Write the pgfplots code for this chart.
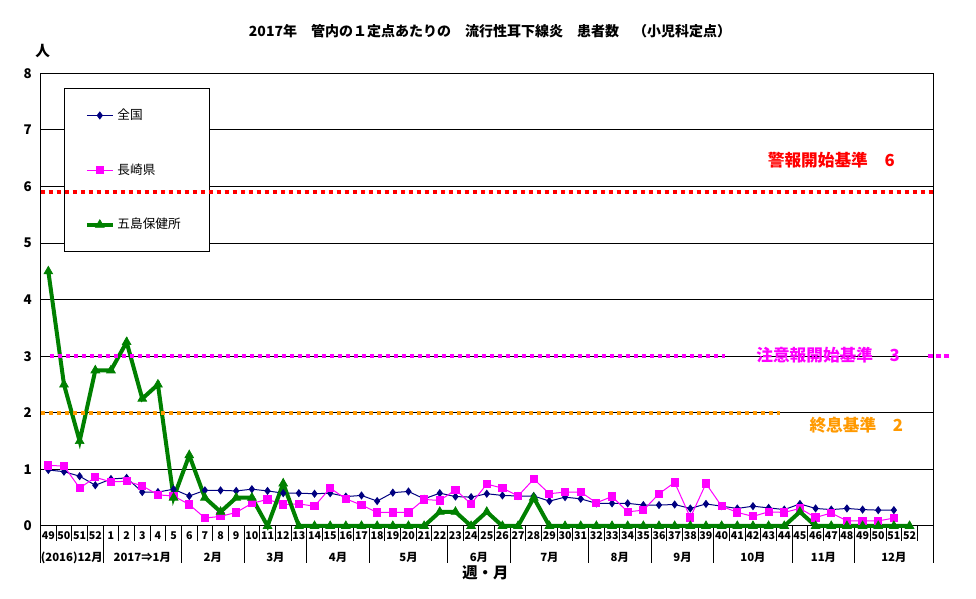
\documentclass[border=0pt]{standalone}
\usepackage{fontspec}
\setmainfont{Noto Sans CJK JP}
\usepackage{pgfplots}
\pgfplotsset{compat=1.18}

\definecolor{zenkoku}{HTML}{000080}
\definecolor{nagasaki}{HTML}{FF00FF}
\definecolor{goto}{HTML}{008000}
\definecolor{keiho}{HTML}{FF0000}
\definecolor{shusoku}{HTML}{FF9900}

% 1px = 0.75pt ; picture 976x599 px
\pgfplotsset{
  base/.style={
    at={(30.375pt,54.75pt)}, anchor=south west,
    scale only axis, width=669.4pt, height=339.5pt,
    xmin=-0.5, xmax=56.5, ymin=0, ymax=8,
    clip=false,
  },
}
\tikzset{
  thresh/.style={line width=3.2pt, dash pattern=on 3.2pt off 2.8pt, line cap=butt},
  month/.style={font=\fontsize{8.5}{9}\selectfont\bfseries, yshift=-23.8pt},
}

\begin{document}
\begin{tikzpicture}
\useasboundingbox (0,0) rectangle (732pt,449.25pt);

\begin{axis}[base,
  /pgf/number format/assume math mode=true,
  axis line style={black, line width=0.75pt},
  ytick={0,...,8},
  ymajorgrids, grid style={black, line width=0.75pt},
  ytick style={draw=none},
  yticklabel style={font=\fontsize{10}{10}\selectfont\bfseries, xshift=-3pt},
  xtick={0,...,55},
  xticklabels={49,50,51,52,1,2,3,4,5,6,7,8,9,10,11,12,13,14,15,16,17,18,19,20,
    21,22,23,24,25,26,27,28,29,30,31,32,33,34,35,36,37,38,39,40,41,42,43,44,45,
    46,47,48,49,50,51,52},
  xticklabel style={font=\fontsize{8}{8}\selectfont\bfseries, yshift=-1pt},
  major tick length=0pt,
  minor xtick={-0.5,0.5,...,55.5},
  minor tick length=11.25pt,
  tick align=outside,
  xtick pos=bottom, ytick pos=left,
  minor x tick style={black, line width=0.75pt},
  extra x ticks={-0.5,3.5,8.5,12.5,16.5,20.5,25.5,29.5,34.5,38.5,42.5,47.5,51.5,56.5},
  extra x tick labels={},
  extra x tick style={major tick length=27.75pt, tick align=outside, grid=none,
    tick style={black, line width=0.75pt}},
  legend style={at={(0.0267,0.967)}, anchor=north west, draw=black, fill=white,
    line width=0.75pt, inner xsep=15pt, inner ysep=13pt, row sep=27pt,
    font=\fontsize{9.5}{10}\selectfont,
    nodes={text width=52pt, text height=8pt, text depth=2pt}},
  legend cell align=left,
  legend image code/.code={\draw[mark repeat=2,mark phase=2,#1]
    plot coordinates {(0pt,0pt) (9.75pt,0pt) (19.5pt,0pt)};},
]

\addplot[zenkoku, line width=0.75pt, mark=diamond*, mark size=2.5pt,
  mark options={solid, fill=zenkoku}] coordinates {
(0,0.99) (1,0.96) (2,0.88) (3,0.72) (4,0.83) (5,0.85) (6,0.60) (7,0.60)
(8,0.65) (9,0.53) (10,0.63) (11,0.63) (12,0.62) (13,0.65) (14,0.62) (15,0.58)
(16,0.58) (17,0.57) (18,0.58) (19,0.52) (20,0.54) (21,0.44) (22,0.59) (23,0.61)
(24,0.48) (25,0.58) (26,0.52) (27,0.51) (28,0.57) (29,0.54) (30,0.53) (31,0.53)
(32,0.44) (33,0.51) (34,0.48) (35,0.40) (36,0.40) (37,0.40) (38,0.37) (39,0.37)
(40,0.38) (41,0.31) (42,0.39) (43,0.35) (44,0.31) (45,0.35) (46,0.32) (47,0.29)
(48,0.39) (49,0.31) (50,0.29) (51,0.31) (52,0.29) (53,0.28) (54,0.28)
};
\addlegendentry{全国}

\addplot[nagasaki, line width=0.75pt, mark=square*, mark size=2.7pt,
  mark options={solid, fill=nagasaki}] coordinates {
(0,1.07) (1,1.06) (2,0.67) (3,0.86) (4,0.78) (5,0.79) (6,0.71) (7,0.55)
(8,0.53) (9,0.38) (10,0.14) (11,0.17) (12,0.24) (13,0.40) (14,0.47) (15,0.38)
(16,0.39) (17,0.35) (18,0.67) (19,0.48) (20,0.37) (21,0.24) (22,0.24) (23,0.24)
(24,0.47) (25,0.45) (26,0.64) (27,0.39) (28,0.74) (29,0.67) (30,0.53) (31,0.83)
(32,0.57) (33,0.60) (34,0.60) (35,0.41) (36,0.52) (37,0.25) (38,0.28) (39,0.57)
(40,0.77) (41,0.15) (42,0.75) (43,0.35) (44,0.24) (45,0.17) (46,0.25) (47,0.24)
(48,0.31) (49,0.15) (50,0.23) (51,0.09) (52,0.09) (53,0.09) (54,0.14)
};
\addlegendentry{長崎県}

\addplot[goto, line width=3pt, mark=triangle*, mark size=3.8pt,
  mark options={solid, fill=goto, line width=0.5pt}] coordinates {
(0,4.5) (1,2.5) (2,1.5) (3,2.75) (4,2.75) (5,3.25) (6,2.25) (7,2.5)
(8,0.5) (9,1.25) (10,0.5) (11,0.25) (12,0.5) (13,0.5) (14,0) (15,0.75)
(16,0) (17,0) (18,0) (19,0) (20,0) (21,0) (22,0) (23,0)
(24,0) (25,0.25) (26,0.25) (27,0) (28,0.25) (29,0) (30,0) (31,0.5)
(32,0) (33,0) (34,0) (35,0) (36,0) (37,0) (38,0) (39,0)
(40,0) (41,0) (42,0) (43,0) (44,0) (45,0) (46,0) (47,0)
(48,0.25) (49,0) (50,0) (51,0) (52,0) (53,0) (54,0) (55,0)
};
\addlegendentry{五島保健所}

% month labels
\node[month] at (axis cs:1.5,0) {(2016)12月};
\node[month] at (axis cs:6,0) {2017⇒1月};
\node[month] at (axis cs:10.5,0) {2月};
\node[month] at (axis cs:14.5,0) {3月};
\node[month] at (axis cs:18.5,0) {4月};
\node[month] at (axis cs:23,0) {5月};
\node[month] at (axis cs:27.5,0) {6月};
\node[month] at (axis cs:32,0) {7月};
\node[month] at (axis cs:36.5,0) {8月};
\node[month] at (axis cs:40.5,0) {9月};
\node[month] at (axis cs:45,0) {10月};
\node[month] at (axis cs:49.5,0) {11月};
\node[month] at (axis cs:54,0) {12月};
\end{axis}

% threshold lines, drawn over the legend
\begin{axis}[base, hide axis]
\addplot[keiho, thresh, no marks] coordinates {(-0.5,5.9) (56.5,5.9)};
\addplot[nagasaki, thresh, no marks] coordinates {(0.1,3) (43.2,3)};
\addplot[nagasaki, thresh, no marks] coordinates {(56.2,3) (57.6,3)};
\addplot[shusoku, thresh, no marks] coordinates {(-0.5,2) (46.7,2)};
\node[keiho, font=\fontsize{12.5}{13}\selectfont\bfseries] at (axis cs:50.0,6.47) {警報開始基準　6};
\node[nagasaki, font=\fontsize{12.5}{13}\selectfont\bfseries] at (axis cs:49.8,3.02) {注意報開始基準　3};
\node[shusoku, font=\fontsize{12.5}{13}\selectfont\bfseries] at (axis cs:51.6,1.78) {終息基準　2};
\end{axis}

\node[font=\fontsize{10.5}{11}\selectfont\bfseries] at (367.5pt,426pt)
  {2017年　管内の１定点あたりの　流行性耳下線炎　患者数　（小児科定点）};
\node[font=\fontsize{11}{11}\selectfont\bfseries] at (32pt,411pt) {人};
\node[font=\fontsize{11.5}{12}\selectfont\bfseries] at (364pt,19.5pt) {週・月};
\end{tikzpicture}
\end{document}
